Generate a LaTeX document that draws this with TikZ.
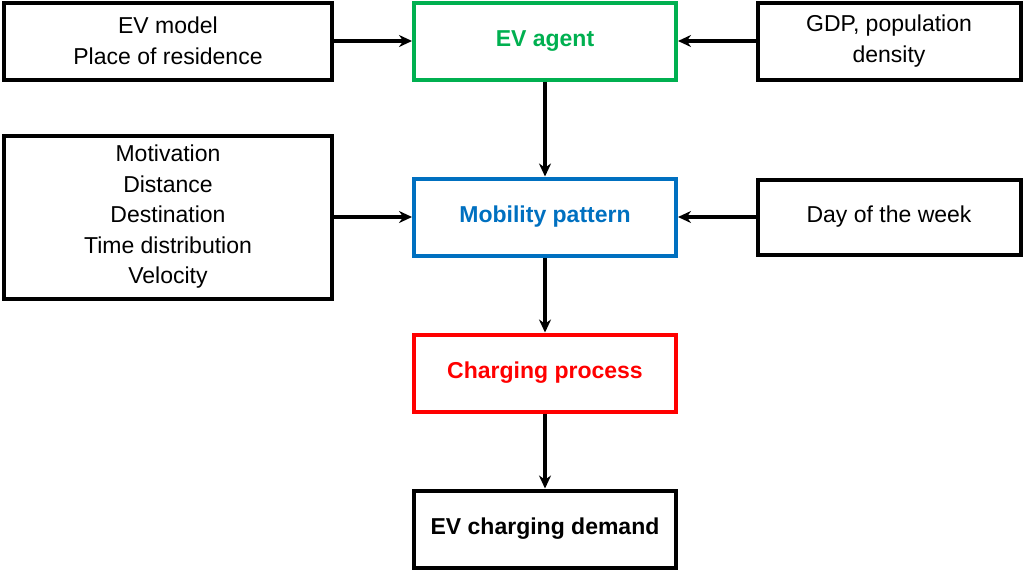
\documentclass[tikz,border=0pt]{standalone}
\usepackage{fontspec}
\setmainfont{Liberation Sans}
\usetikzlibrary{arrows.meta}
\begin{document}
\begin{tikzpicture}[x=1pt,y=-1pt,
 box/.style={draw,line width=4pt,minimum width=262pt,align=center,font=\fontsize{23}{30.5}\selectfont,inner sep=0pt},
 mid/.style={box,font=\fontsize{23}{30}\selectfont\bfseries},
 arr/.style={line width=3.2pt,-{Stealth[length=13pt,width=12pt]}}]
\useasboundingbox (0,0) rectangle (1024,571);
\node[box,minimum width=328pt,minimum height=77pt] (lt) at (168,41) {EV model\\Place of residence};
\node[mid,draw={rgb,255:red,0;green,176;blue,80},text={rgb,255:red,0;green,176;blue,80},minimum height=77pt] (ev) at (545,41) {EV agent};
\node[box,minimum width=263pt,minimum height=77pt] (rt) at (889,41) {GDP, population\\density};
\node[box,minimum width=328pt,minimum height=163pt] (lm) at (168,217) {Motivation\\ Distance\\Destination\\Time distribution\\Velocity};
\node[mid,draw={rgb,255:red,0;green,112;blue,192},text={rgb,255:red,0;green,112;blue,192},minimum height=77pt] (mp) at (545,217) {Mobility pattern};
\node[box,minimum width=263pt,minimum height=75pt] (rm) at (889,217) {Day of the week};
\node[mid,draw=red,text=red,minimum height=77pt] (cp) at (545,373) {Charging process};
\node[mid,minimum height=77pt] (dm) at (545,529) {EV charging demand};
\draw[arr] (lt) -- (ev);
\draw[arr] (rt) -- (ev);
\draw[arr] (lm.east |- mp) -- (mp);
\draw[arr] (rm) -- (mp);
\draw[arr] (ev) -- (mp);
\draw[arr] (mp) -- (cp);
\draw[arr] (cp) -- (dm);
\end{tikzpicture}
\end{document}
